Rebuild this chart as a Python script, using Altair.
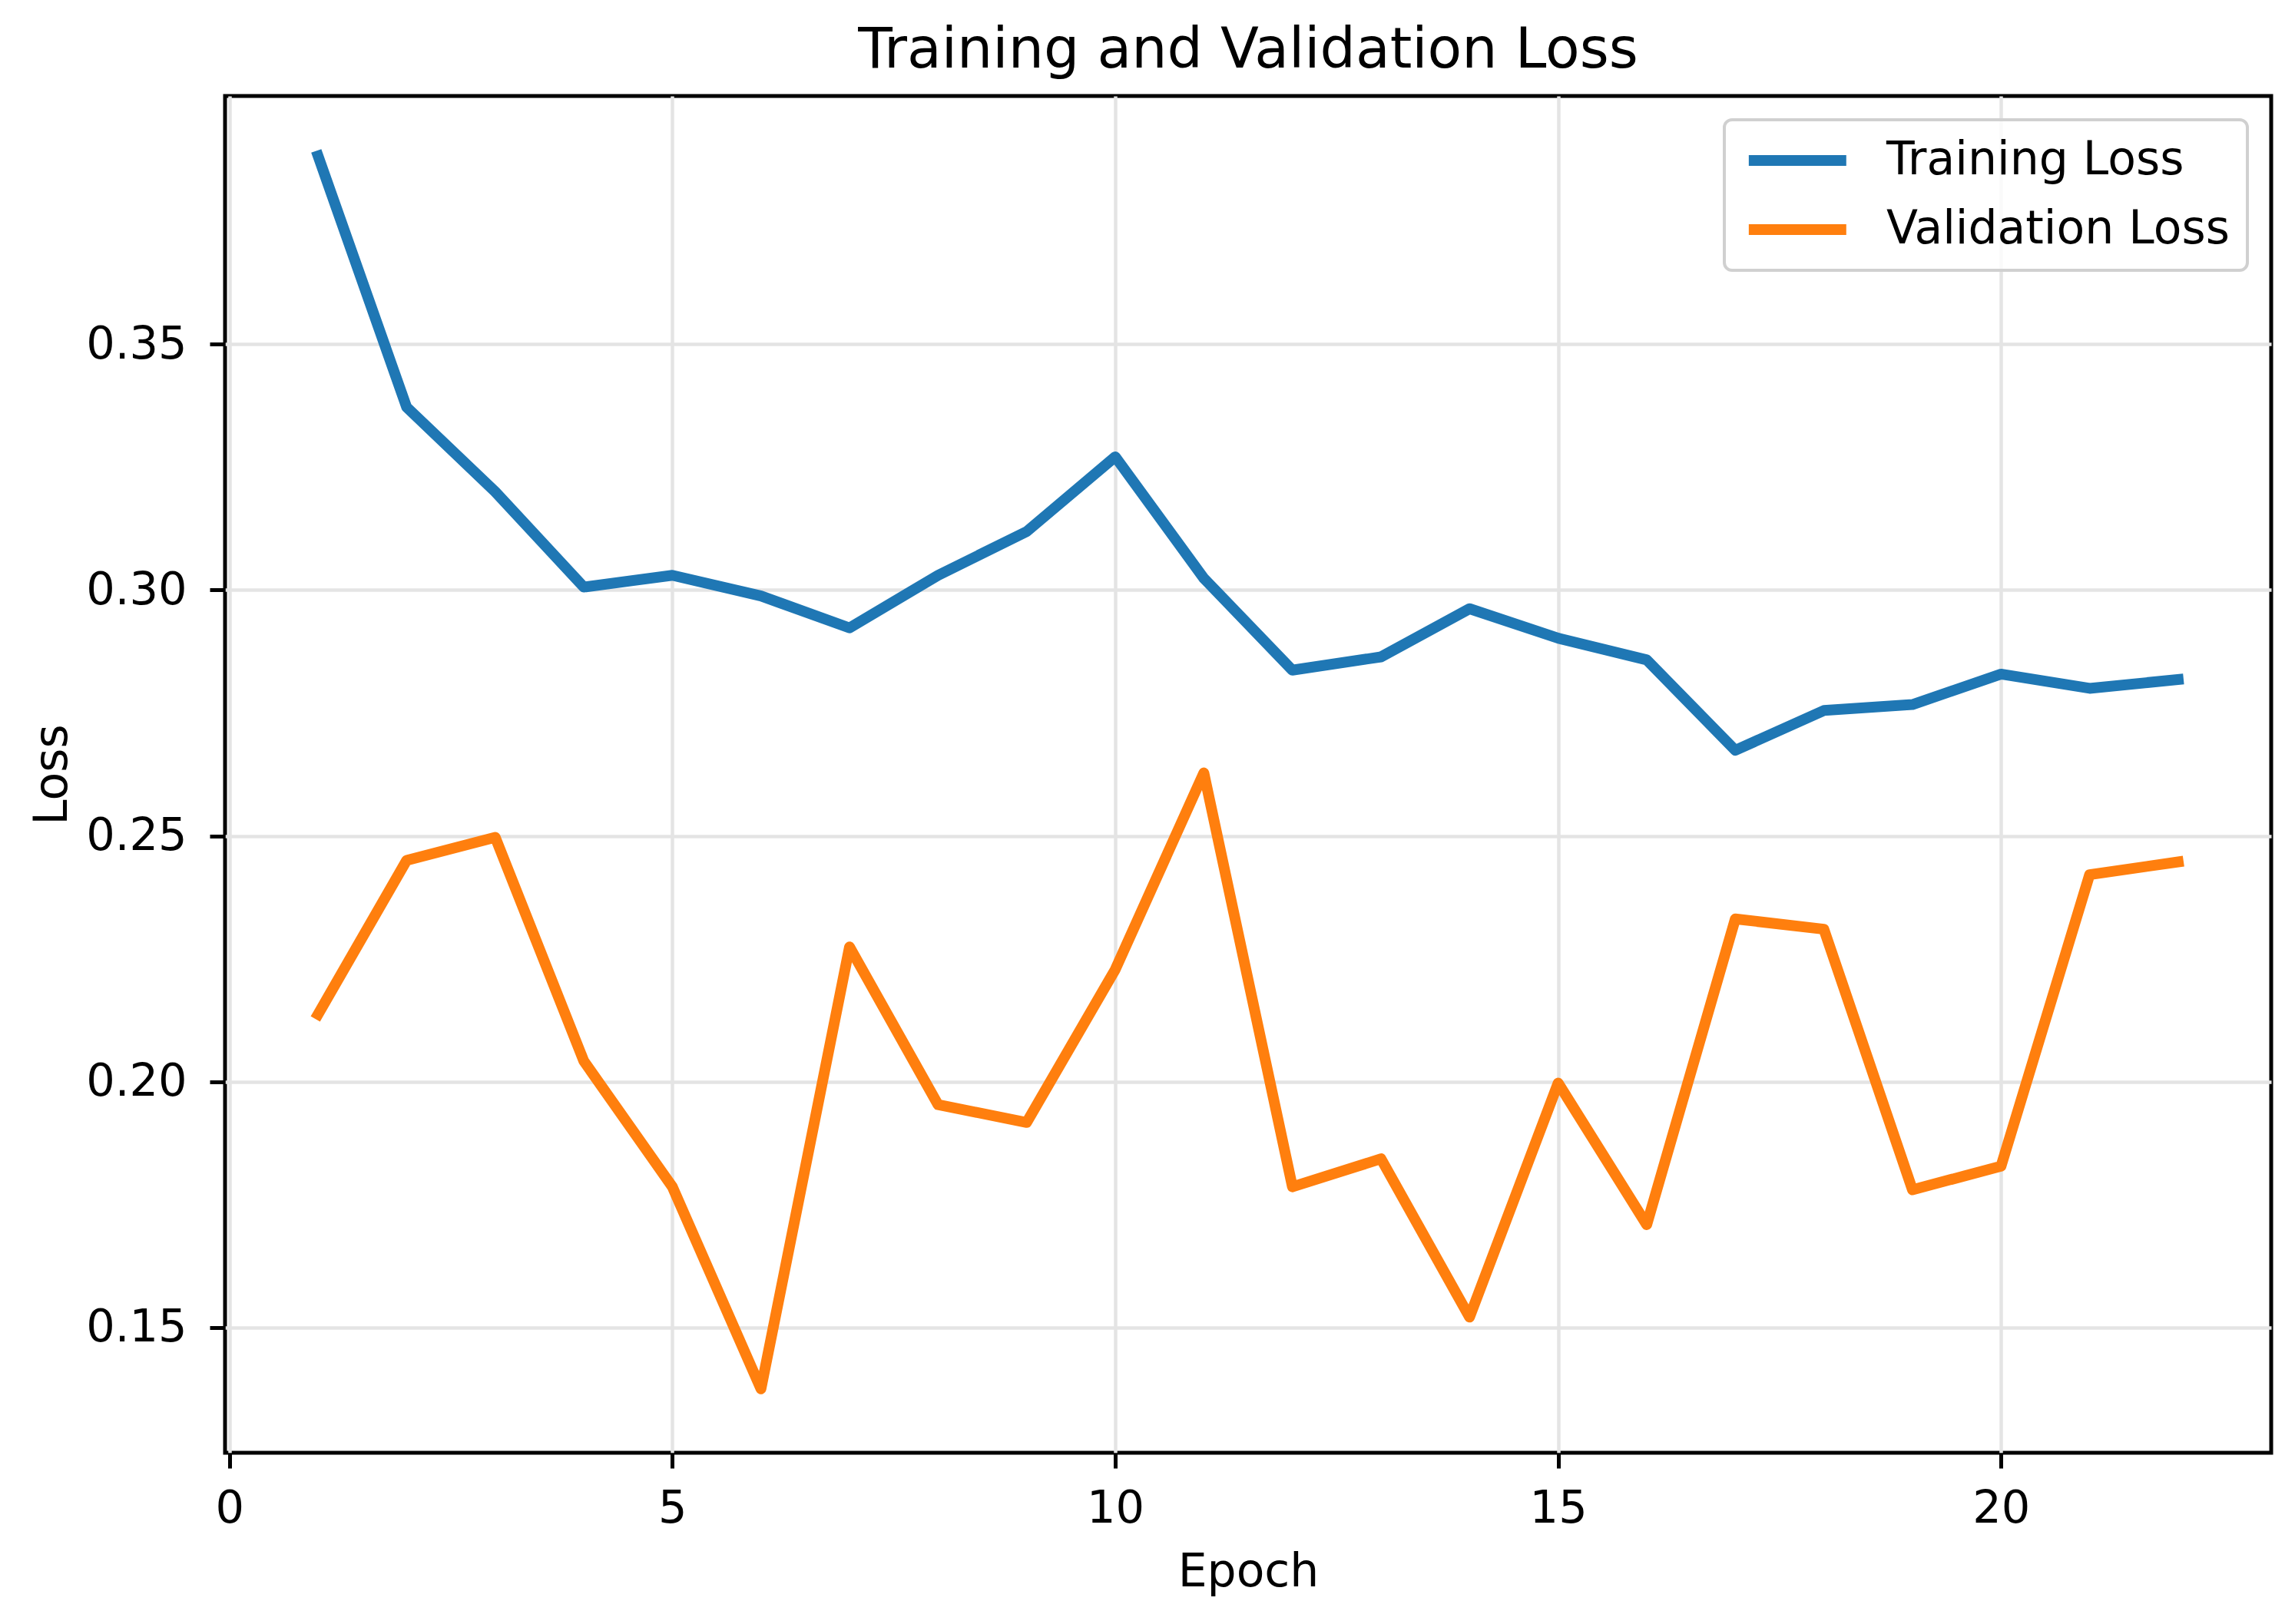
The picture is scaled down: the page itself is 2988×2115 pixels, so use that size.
import altair as alt
import pandas as pd

epochs = list(range(1, 23))
train_loss = [0.3883, 0.3372, 0.3200, 0.3006, 0.3030, 0.2988, 0.2923, 0.3030,
              0.3119, 0.3271, 0.3024, 0.2837, 0.2864, 0.2962, 0.2902, 0.2858,
              0.2674, 0.2755, 0.2767, 0.2829, 0.2800, 0.2818]
val_loss = [0.2137, 0.2450, 0.2497, 0.2042, 0.1786, 0.1375, 0.2274, 0.1953,
            0.1917, 0.2228, 0.2628, 0.1786, 0.1843, 0.1521, 0.1997, 0.1709,
            0.2331, 0.2310, 0.1780, 0.1828, 0.2421, 0.2447]
series_names = ["Training Loss", "Validation Loss"]
series_colors = ["#1f77b4", "#ff7f0e"]
x_ticks = [0, 5, 10, 15, 20]
y_ticks = [0.15, 0.20, 0.25, 0.30, 0.35]

rows = []
for i, e in enumerate(epochs):
    rows.append({"Epoch": e, "Loss": train_loss[i], "Series": series_names[0], "order": 0})
for i, e in enumerate(epochs):
    rows.append({"Epoch": e, "Loss": val_loss[i], "Series": series_names[1], "order": 1})
df = pd.DataFrame(rows)

FONT = "DejaVu Sans"
FS = 59
LW = 14

chart = alt.Chart(df).mark_line(
    strokeWidth=LW, strokeCap="square", strokeJoin="round"
).encode(
    x=alt.X("Epoch:Q",
            scale=alt.Scale(domain=[-0.05, 23.05], nice=False, zero=False),
            axis=alt.Axis(values=x_ticks, format="d", title="Epoch",
                          labelPadding=23, titlePadding=24)),
    y=alt.Y("Loss:Q",
            scale=alt.Scale(domain=[0.1245, 0.4005], nice=False, zero=False),
            axis=alt.Axis(values=y_ticks, format=".2f", title="Loss",
                          labelPadding=30, titlePadding=12)),
    color=alt.Color("Series:N",
                    scale=alt.Scale(domain=series_names, range=series_colors),
                    legend=alt.Legend(title=None, orient="top-right", offset=31,
                                      symbolType="M-1,0H5", symbolSize=1790,
                                      symbolStrokeWidth=LW,
                                      labelFontSize=FS + 1, labelFont=FONT,
                                      labelColor="black", labelOffset=128,
                                      labelLimit=1000,
                                      padding=23, rowPadding=30,
                                      strokeColor="#d0d0d0", cornerRadius=10,
                                      fillColor="rgba(255,255,255,0.8)")),
    order="order:Q",
    detail="Series:N",
).properties(
    width=2664,
    height=1767,
    background="white",
    title=alt.TitleParams("Training and Validation Loss", fontSize=73, font=FONT,
                          fontWeight="normal", color="black", anchor="middle",
                          baseline="alphabetic", offset=-36, frame="group"),
    autosize=alt.AutoSizeParams(type="none"),
    padding={"left": 285, "top": 117, "right": 23, "bottom": 215},
).configure_view(
    stroke="black", strokeWidth=5
).configure_axis(
    domain=False,
    ticks=True, tickColor="black", tickWidth=5, tickSize=20,
    grid=True, gridColor="#e4e4e4", gridWidth=4.5,
    labelFont=FONT, labelFontSize=FS, labelColor="black",
    titleFont=FONT, titleFontSize=FS + 1, titleFontWeight="normal", titleColor="black",
).configure_legend(
    strokeWidth=4
)

chart.save("out.html", embed_options={"renderer": "svg", "actions": False})
